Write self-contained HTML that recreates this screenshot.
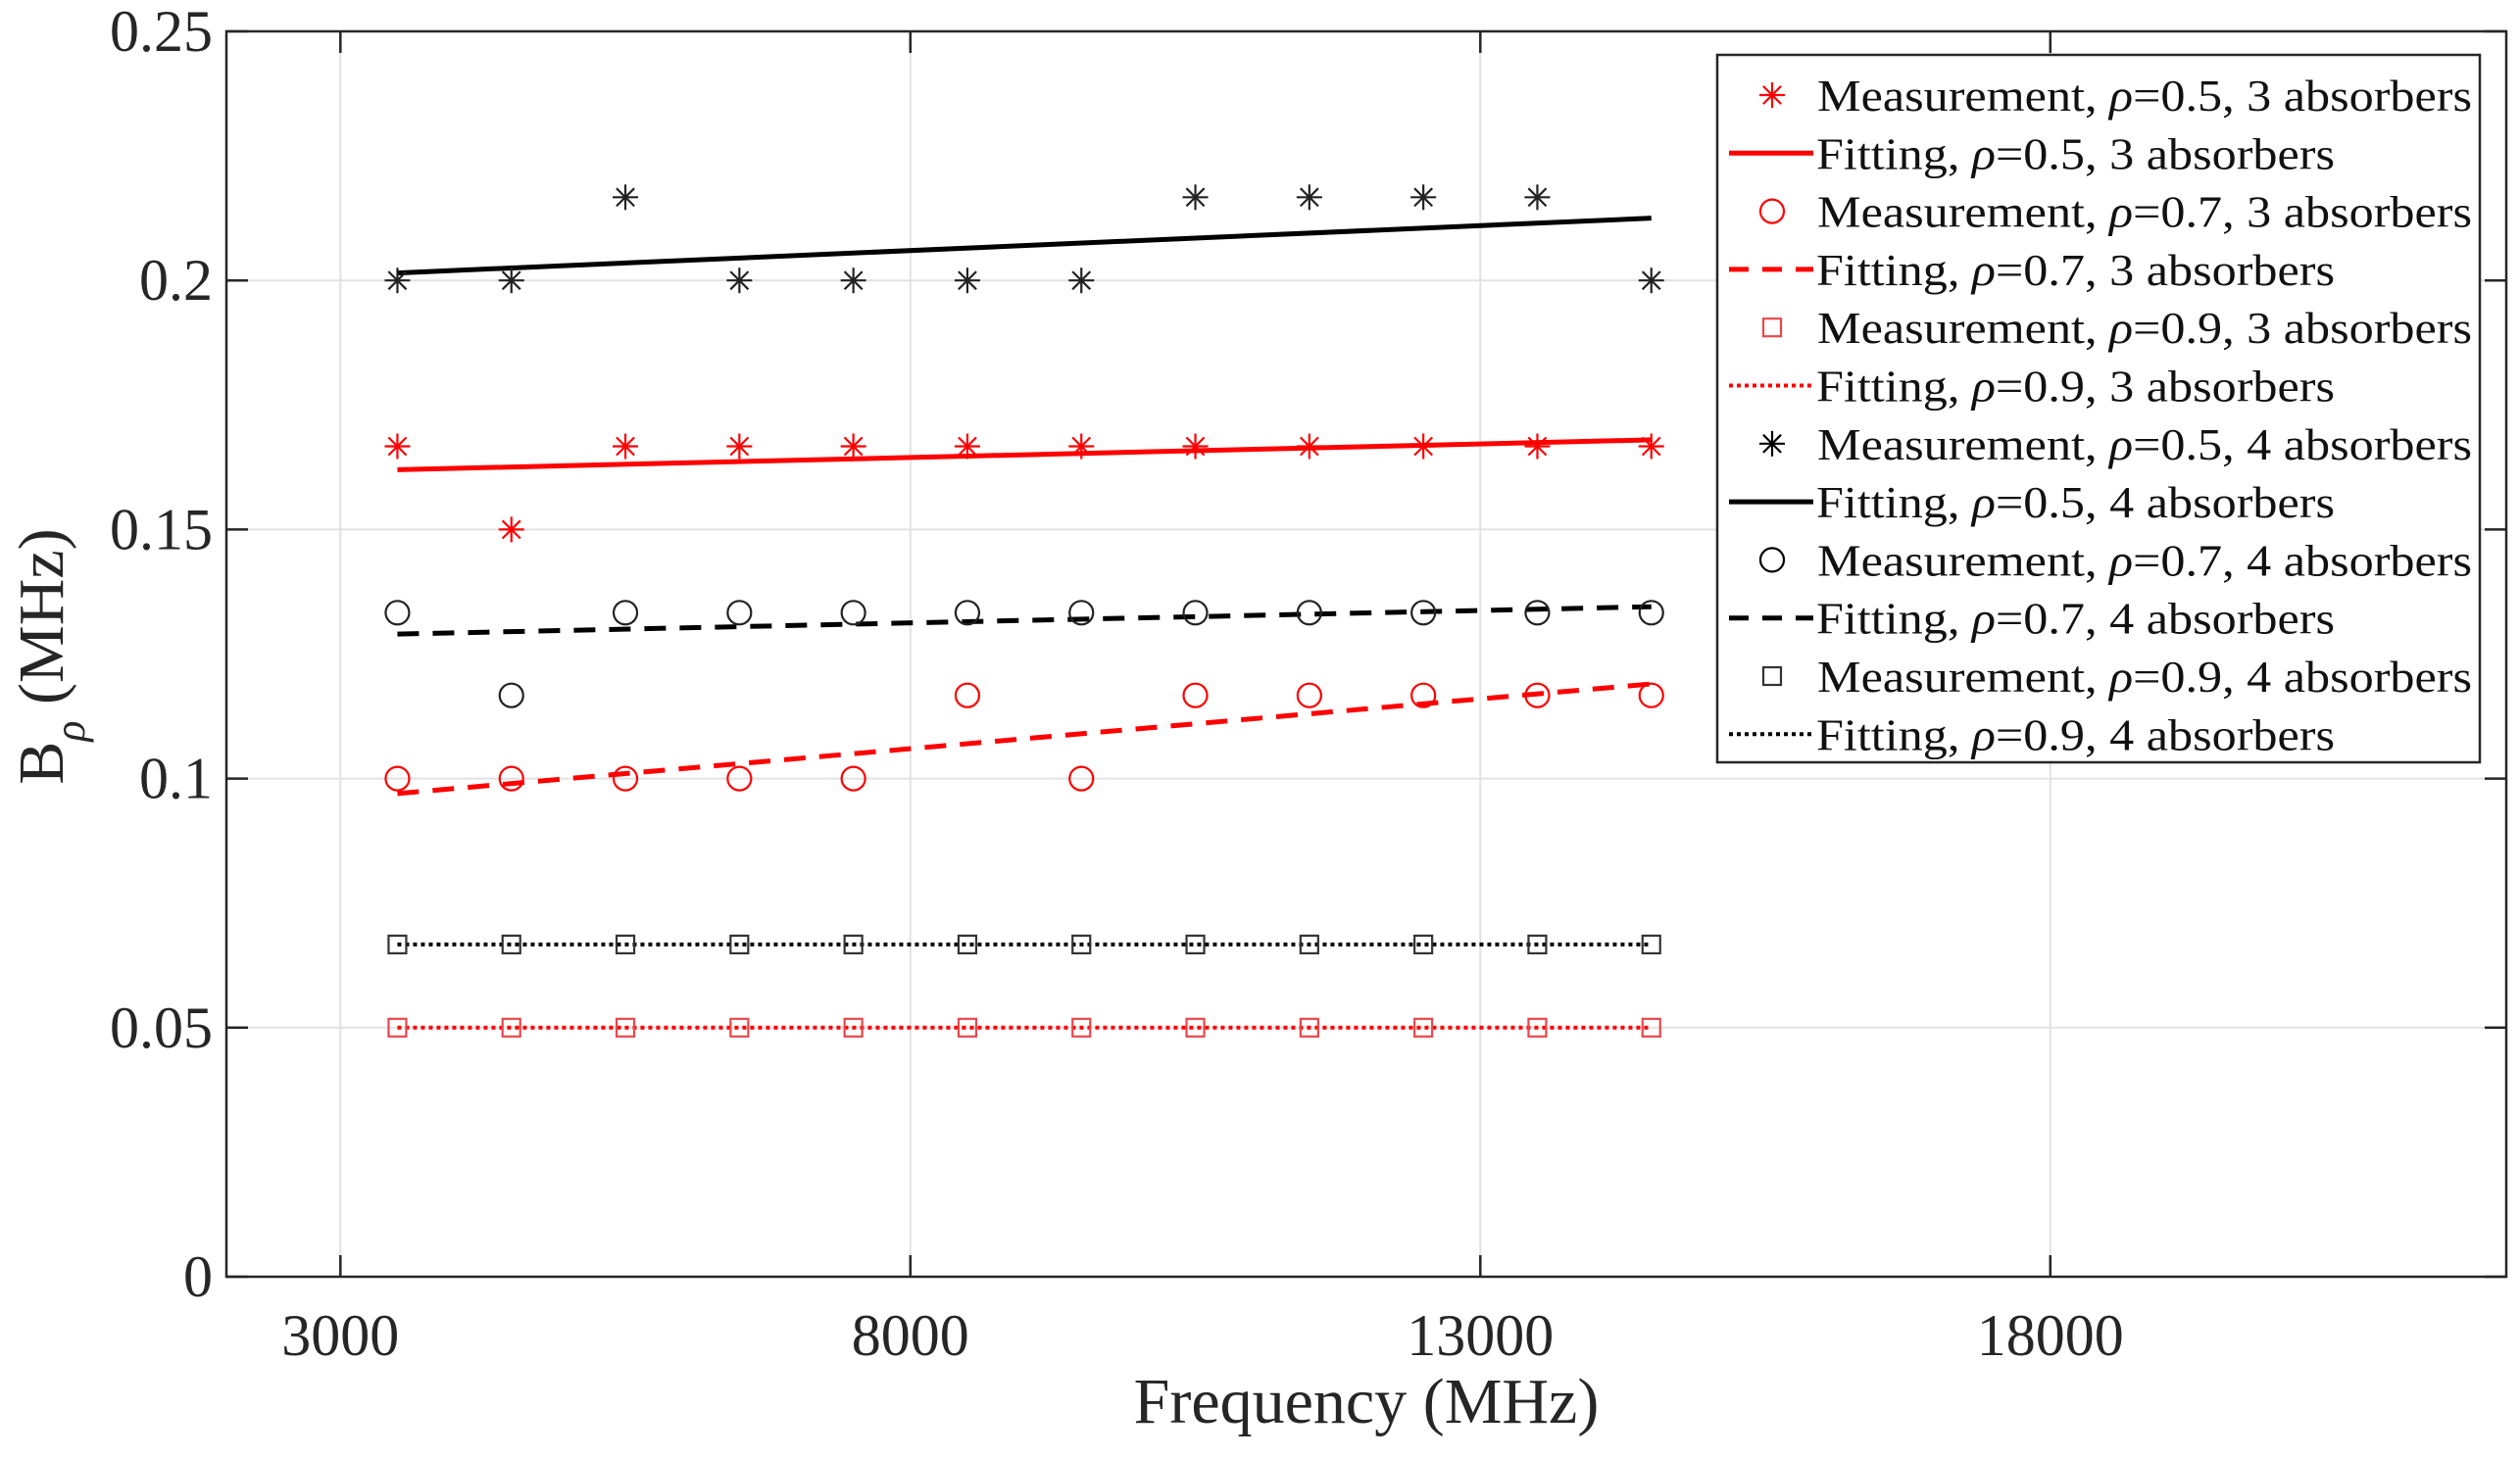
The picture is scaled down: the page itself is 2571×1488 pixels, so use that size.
<!DOCTYPE html>
<html><head><meta charset="utf-8"><style>
html,body{margin:0;padding:0;background:#fff;}
svg{display:block;font-family:"Liberation Serif",serif;}
</style></head><body>
<svg id="chart" width="2571" height="1488" viewBox="0 0 2571 1488" xmlns="http://www.w3.org/2000/svg"></svg>
<script>
const freqs = [3500,4500,5500,6500,7500,8500,9500,10500,11500,12500,13500,14500];
const meas05_3 = [0.1667,0.15,0.1667,0.1667,0.1667,0.1667,0.1667,0.1667,0.1667,0.1667,0.1667,0.1667];
const meas07_3 = [0.1,0.1,0.1,0.1,0.1,0.1167,0.1,0.1167,0.1167,0.1167,0.1167,0.1167];
const meas09_3 = [0.05,0.05,0.05,0.05,0.05,0.05,0.05,0.05,0.05,0.05,0.05,0.05];
const meas05_4 = [0.2,0.2,0.2167,0.2,0.2,0.2,0.2,0.2167,0.2167,0.2167,0.2167,0.2];
const meas07_4 = [0.1333,0.1167,0.1333,0.1333,0.1333,0.1333,0.1333,0.1333,0.1333,0.1333,0.1333,0.1333];
const meas09_4 = [0.0667,0.0667,0.0667,0.0667,0.0667,0.0667,0.0667,0.0667,0.0667,0.0667,0.0667,0.0667];
const fitX = [3500,14500];
const fit05_3 = [0.162,0.168];
const fit07_3 = [0.097,0.119];
const fit09_3 = [0.05,0.05];
const fit05_4 = [0.2015,0.2125];
const fit07_4 = [0.129,0.1345];
const fit09_4 = [0.0667,0.0667];
const xTicks = [3000,8000,13000,18000];
const yTicks = [0,0.05,0.1,0.15,0.2,0.25];
const yTickLabels = ["0","0.05","0.1","0.15","0.2","0.25"];

const L=231,R=2557,T=32,B=1303,XMIN=2000,XMAX=22000,YMIN=0,YMAX=0.25;
const sx=v=>L+(v-XMIN)/(XMAX-XMIN)*(R-L);
const sy=v=>B-(v-YMIN)/(YMAX-YMIN)*(B-T);
const svg=document.getElementById('chart');
const NS='http://www.w3.org/2000/svg';
function mk(tag,attrs,parent){const e=document.createElementNS(NS,tag);for(const k in attrs)e.setAttribute(k,attrs[k]);(parent||svg).appendChild(e);return e;}

const grid=mk('g',{});


xTicks.forEach(t=>{mk('line',{x1:sx(t),x2:sx(t),y1:T,y2:B,stroke:'#e2e2e2','stroke-width':2},grid);});
yTicks.forEach(t=>{mk('line',{x1:L,x2:R,y1:sy(t),y2:sy(t),stroke:'#e2e2e2','stroke-width':2},grid);});

const box=mk('rect',{x:L,y:T,width:R-L,height:B-T,fill:'none',stroke:'#262626','stroke-width':2.5});



const xa=mk('g',{});


xTicks.forEach(t=>{
  mk('line',{x1:sx(t),x2:sx(t),y1:B,y2:B-22,stroke:'#262626','stroke-width':2.5},xa);
  mk('line',{x1:sx(t),x2:sx(t),y1:T,y2:T+22,stroke:'#262626','stroke-width':2.5},xa);
  const tx=mk('text',{x:sx(t),y:B+80,'text-anchor':'middle','font-size':60,fill:'#262626'},xa);
  tx.textContent=t;
  
  
});
const ya=mk('g',{});


yTicks.forEach((t,i)=>{
  mk('line',{x1:L,x2:L+22,y1:sy(t),y2:sy(t),stroke:'#262626','stroke-width':2.5},ya);
  mk('line',{x1:R,x2:R-22,y1:sy(t),y2:sy(t),stroke:'#262626','stroke-width':2.5},ya);
  const tx=mk('text',{x:L-14,y:sy(t)+20,'text-anchor':'end','font-size':60,fill:'#262626'},ya);
  tx.textContent=yTickLabels[i];
  
  
});
const xt=mk('text',{x:1394,y:1452,'text-anchor':'middle','font-size':66,fill:'#262626'});
xt.textContent='Frequency (MHz)';


const yt=mk('text',{x:0,y:0,'text-anchor':'middle','font-size':66,fill:'#262626',transform:'translate(64,670) rotate(-90)'});
yt.innerHTML='B<tspan dy="22" font-size="44" font-style="italic">ρ</tspan><tspan dy="-22"> (MHz)</tspan>';



function marker(g,type,x,y,c){
  if(type==='star'){
    const s=13;
    mk('line',{x1:x-s,x2:x+s,y1:y,y2:y,stroke:c,'stroke-width':2.2},g);
    mk('line',{x1:x,x2:x,y1:y-s,y2:y+s,stroke:c,'stroke-width':2.2},g);
    mk('line',{x1:x-s*0.7,x2:x+s*0.7,y1:y-s*0.7,y2:y+s*0.7,stroke:c,'stroke-width':2.2},g);
    mk('line',{x1:x-s*0.7,x2:x+s*0.7,y1:y+s*0.7,y2:y-s*0.7,stroke:c,'stroke-width':2.2},g);
  }else if(type==='circle'){
    mk('circle',{cx:x,cy:y,r:12,fill:'none',stroke:c,'stroke-width':2.2},g);
  }else{
    mk('rect',{x:x-9,y:y-9,width:18,height:18,fill:'none',stroke:c,'stroke-width':2.2},g);
  }
}
const dashes={solid:'',dash:'22 14',dot:'4 4'};
function fitLine(name,ys,c,style){
  const g=mk('g',{});
  
  
  const a={x1:sx(fitX[0]),y1:sy(ys[0]),x2:sx(fitX[1]),y2:sy(ys[1]),stroke:c,'stroke-width':style==='dot'?4:5};
  if(dashes[style])a['stroke-dasharray']=dashes[style];
  mk('line',a,g);
}
function scatter(name,ys,c,type){
  const g=mk('g',{});
  
  
  freqs.forEach((f,i)=>marker(g,type,sx(f),sy(ys[i]),c));
}
const RED='#ff0000',RED2='#e8474b',BLK='#000';
fitLine('fit-rho05-3abs',fit05_3,RED,'solid');
fitLine('fit-rho07-3abs',fit07_3,RED,'dash');
fitLine('fit-rho09-3abs',fit09_3,RED,'dot');
fitLine('fit-rho05-4abs',fit05_4,BLK,'solid');
fitLine('fit-rho07-4abs',fit07_4,BLK,'dash');
fitLine('fit-rho09-4abs',fit09_4,BLK,'dot');
scatter('meas-rho05-3abs',meas05_3,RED,'star');
scatter('meas-rho07-3abs',meas07_3,RED,'circle');
scatter('meas-rho09-3abs',meas09_3,RED2,'square');
scatter('meas-rho05-4abs',meas05_4,'#222','star');
scatter('meas-rho07-4abs',meas07_4,'#222','circle');
scatter('meas-rho09-4abs',meas09_4,'#333','square');

const lg=mk('g',{});


mk('rect',{x:1752,y:56,width:778,height:722,fill:'#fff',stroke:'#262626','stroke-width':2.5},lg);
const entries=[
 ['Measurement','0.5','3','m','star',RED],['Fitting','0.5','3','l','solid',RED],
 ['Measurement','0.7','3','m','circle',RED],['Fitting','0.7','3','l','dash',RED],
 ['Measurement','0.9','3','m','square',RED2],['Fitting','0.9','3','l','dot',RED],
 ['Measurement','0.5','4','m','star',BLK],['Fitting','0.5','4','l','solid',BLK],
 ['Measurement','0.7','4','m','circle',BLK],['Fitting','0.7','4','l','dash',BLK],
 ['Measurement','0.9','4','m','square','#333'],['Fitting','0.9','4','l','dot',BLK]];
entries.forEach((e,i)=>{
  const y=97+i*59.3;
  const g=mk('g',{},lg);
  
  
  if(e[3]==='m')marker(g,e[4],1808,y,e[5]);
  else{const a={x1:1764,x2:1850,y1:y,y2:y,stroke:e[5],'stroke-width':e[4]==='dot'?4:5};if(dashes[e[4]])a['stroke-dasharray']=e[4]==='dash'?'20 14':'4 4';mk('line',a,g);}
  const isM=e[3]==='m';
  const t=mk('text',{x:isM?1854:1853,y:y+16,'font-size':46,fill:'#111',textLength:isM?668:529,lengthAdjust:'spacingAndGlyphs'},g);
  t.innerHTML=e[0]+', <tspan font-style="italic">ρ</tspan>='+e[1]+', '+e[2]+' absorbers';
});
</script>
</body></html>
